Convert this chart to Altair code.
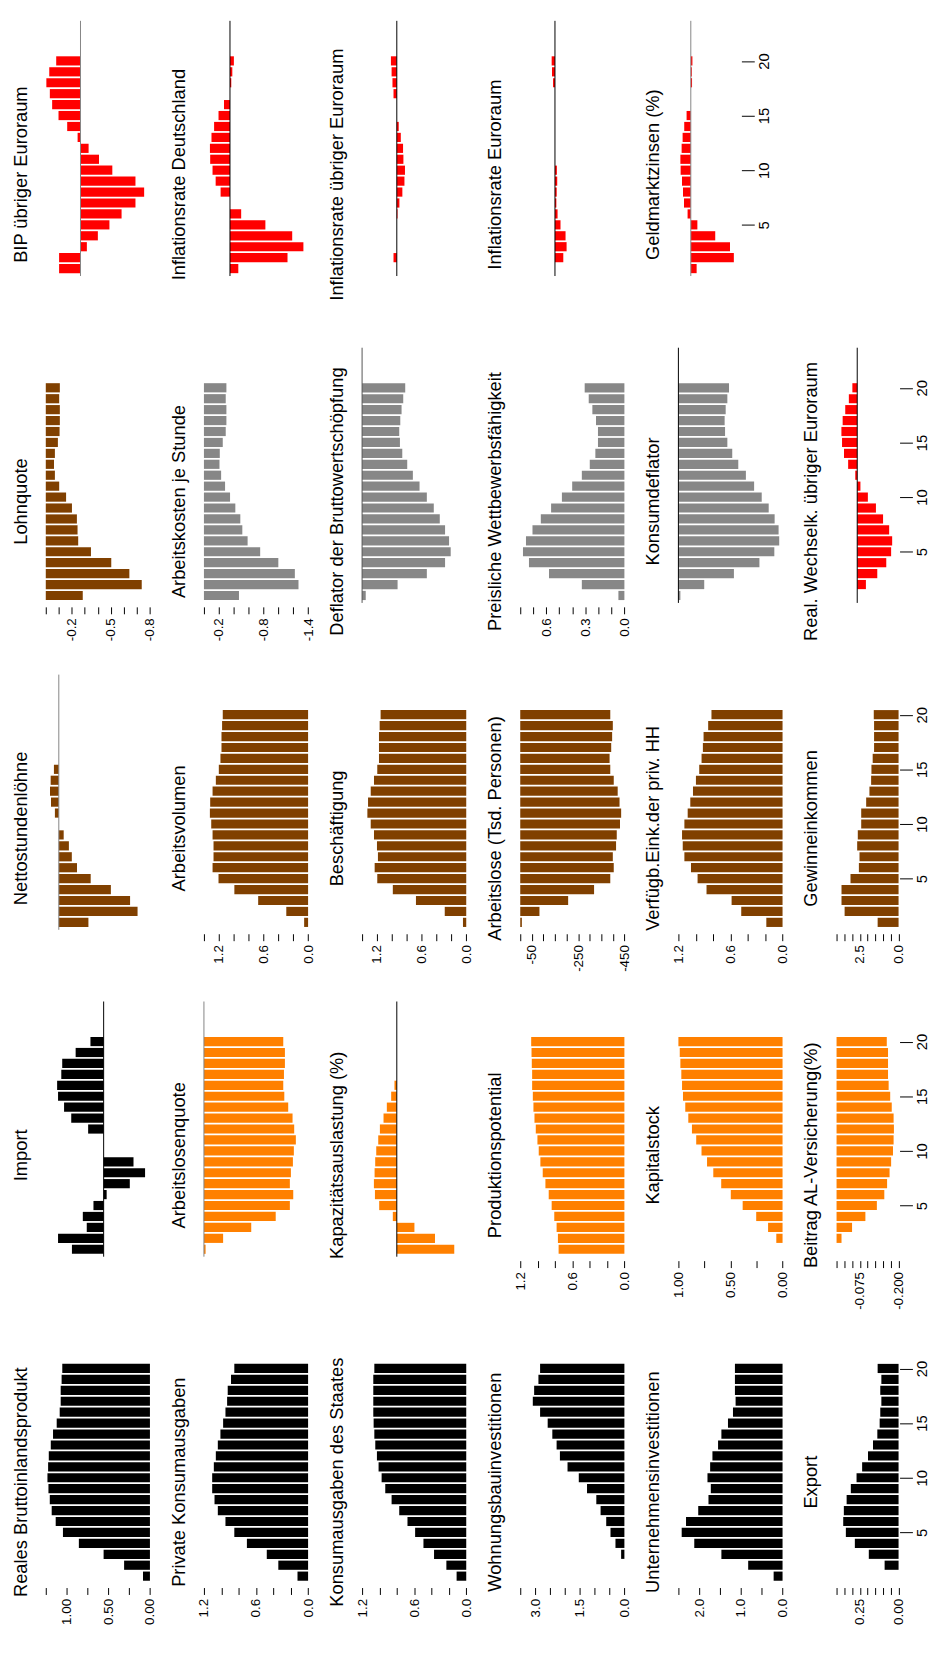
import json
import altair as alt
import pandas as pd

# ---------------- data (quarters 1..20) ----------------
quarters = [1, 2, 3, 4, 5, 6, 7, 8, 9, 10, 11, 12, 13, 14, 15, 16, 17, 18, 19, 20]
quarter_ticks = [5, 10, 15, 20]

bip_uebriger = [0.037, 0.037, -0.011, -0.030, -0.050, -0.071, -0.095, -0.110, -0.095, -0.055,
                -0.032, -0.014, 0.005, 0.023, 0.038, 0.049, 0.053, 0.059, 0.054, 0.042]
infl_de = [-0.032, -0.221, -0.282, -0.239, -0.136, -0.043, 0.0, 0.036, 0.055, 0.067,
           0.076, 0.077, 0.071, 0.061, 0.044, 0.023, 0.0, -0.005, -0.009, -0.015]
infl_uebriger = [0.0, 0.019, 0.0, 0.0, 0.0, -0.004, -0.015, -0.032, -0.044, -0.047,
                 -0.038, -0.036, -0.023, -0.011, 0.0, 0.0, 0.019, 0.025, 0.030, 0.034]
infl_euro = [0.0, -0.048, -0.067, -0.061, -0.032, -0.015, -0.008, -0.010, -0.013, -0.011,
             0.0, 0.0, 0.0, 0.0, 0.0, 0.0, 0.0, 0.011, 0.017, 0.019]
geldmarkt = [-0.047, -0.347, -0.316, -0.197, -0.053, 0.026, 0.055, 0.063, 0.071, 0.082,
             0.084, 0.074, 0.066, 0.053, 0.034, 0.0, 0.0, -0.010, -0.008, -0.013]
lohnquote = [-0.284, -0.737, -0.642, -0.503, -0.347, -0.249, -0.244, -0.239, -0.201, -0.156,
             -0.103, -0.070, -0.063, -0.070, -0.093, -0.106, -0.108, -0.108, -0.103, -0.108]
arbeitskosten = [-0.471, -1.271, -1.222, -1.000, -0.756, -0.587, -0.516, -0.489, -0.422, -0.351,
                 -0.284, -0.231, -0.209, -0.213, -0.253, -0.293, -0.302, -0.302, -0.293, -0.302]
deflator_bws = [-0.042, -0.409, -0.746, -0.956, -1.021, -1.002, -0.956, -0.895, -0.826, -0.746,
                -0.662, -0.585, -0.520, -0.463, -0.436, -0.428, -0.440, -0.455, -0.474, -0.497]
preis_wettb = [0.046, 0.327, 0.579, 0.733, 0.779, 0.756, 0.706, 0.642, 0.563, 0.480,
               0.401, 0.327, 0.266, 0.223, 0.203, 0.203, 0.218, 0.246, 0.274, 0.305]
konsumdeflator = [-0.019, -0.248, -0.533, -0.778, -0.921, -0.968, -0.962, -0.924, -0.867, -0.800,
                  -0.727, -0.648, -0.575, -0.517, -0.470, -0.448, -0.444, -0.454, -0.470, -0.486]
real_wechselk = [0.0, -0.084, -0.194, -0.281, -0.328, -0.338, -0.309, -0.250, -0.181, -0.103,
                 -0.031, 0.019, 0.088, 0.128, 0.147, 0.153, 0.141, 0.116, 0.081, 0.047]
nettostundenloehne = [-0.455, -1.210, -1.095, -0.800, -0.490, -0.280, -0.200, -0.155, -0.075, 0.0,
                      0.060, 0.120, 0.135, 0.125, 0.075, 0.0, 0.0, 0.0, 0.0, 0.0]
arbeitsvolumen = [0.053, 0.293, 0.671, 0.991, 1.204, 1.284, 1.271, 1.271, 1.284, 1.302,
                  1.320, 1.316, 1.284, 1.240, 1.200, 1.178, 1.164, 1.164, 1.156, 1.147]
beschaeftigung = [0.044, 0.289, 0.676, 0.987, 1.196, 1.231, 1.187, 1.200, 1.240, 1.284,
                  1.329, 1.320, 1.284, 1.240, 1.196, 1.173, 1.173, 1.173, 1.164, 1.151]
arbeitslose = [-7, -83, -207, -319, -389, -404, -400, -414, -417, -431,
               -436, -429, -421, -404, -389, -386, -393, -397, -400, -389]
verfuegb_eink = [0.187, 0.476, 0.587, 0.876, 0.979, 1.055, 1.131, 1.150, 1.158, 1.131,
                 1.093, 1.063, 1.032, 0.998, 0.960, 0.933, 0.918, 0.910, 0.857, 0.819]
gewinneinkommen = [1.35, 3.48, 3.68, 3.68, 3.10, 2.56, 2.52, 2.67, 2.63, 2.41,
                   2.41, 2.09, 1.88, 1.77, 1.75, 1.67, 1.58, 1.58, 1.58, 1.60]
importe = [0.137, 0.197, 0.073, 0.090, 0.044, -0.013, -0.113, -0.179, -0.129, 0.0,
           0.0, 0.067, 0.140, 0.171, 0.197, 0.201, 0.183, 0.179, 0.121, 0.057]
arbeitslosenquote = [-0.019, -0.221, -0.545, -0.827, -0.990, -1.029, -0.990, -1.002, -1.025, -1.036,
                     -1.059, -1.040, -1.021, -0.971, -0.926, -0.914, -0.922, -0.933, -0.933, -0.914]
kapazitaet = [-0.662, -0.440, -0.203, 0.046, 0.203, 0.252, 0.264, 0.256, 0.249, 0.237,
              0.214, 0.195, 0.153, 0.115, 0.065, 0.027, 0.0, 0.0, 0.0, 0.0]
produktionspot = [0.758, 0.766, 0.781, 0.808, 0.838, 0.872, 0.910, 0.941, 0.968, 0.987,
                  1.002, 1.021, 1.036, 1.048, 1.055, 1.063, 1.063, 1.067, 1.070, 1.074]
kapitalstock = [0.0, 0.060, 0.139, 0.253, 0.383, 0.497, 0.589, 0.665, 0.725, 0.778,
                0.829, 0.870, 0.905, 0.934, 0.956, 0.965, 0.972, 0.981, 0.987, 1.000]
beitrag_alv = [0.0, -0.016, -0.050, -0.093, -0.130, -0.154, -0.163, -0.171, -0.176, -0.182,
               -0.184, -0.185, -0.184, -0.178, -0.173, -0.168, -0.166, -0.166, -0.166, -0.162]
reales_bip = [0.083, 0.310, 0.556, 0.853, 1.044, 1.131, 1.179, 1.202, 1.218, 1.230,
              1.222, 1.214, 1.190, 1.163, 1.119, 1.083, 1.071, 1.071, 1.060, 1.052]
private_konsum = [0.122, 0.343, 0.476, 0.705, 0.850, 0.952, 1.040, 1.078, 1.105, 1.105,
                  1.086, 1.063, 1.040, 1.010, 0.979, 0.952, 0.933, 0.926, 0.888, 0.850]
staatskonsum = [0.111, 0.229, 0.371, 0.493, 0.589, 0.677, 0.772, 0.860, 0.933, 0.975,
                1.010, 1.029, 1.048, 1.059, 1.067, 1.071, 1.071, 1.071, 1.071, 1.059]
wohnungsbau = [0.0, 0.0, 0.110, 0.300, 0.467, 0.611, 0.800, 0.944, 1.256, 1.533,
               1.911, 2.167, 2.278, 2.422, 2.578, 2.833, 3.078, 3.033, 2.889, 2.833]
unternehmensinv = [0.214, 0.825, 1.468, 2.119, 2.421, 2.317, 2.024, 1.778, 1.722, 1.802,
                   1.738, 1.683, 1.548, 1.468, 1.310, 1.190, 1.127, 1.143, 1.143, 1.143]
exporte = [0.0, 0.090, 0.192, 0.282, 0.340, 0.357, 0.353, 0.335, 0.308, 0.271,
           0.235, 0.197, 0.165, 0.137, 0.122, 0.118, 0.111, 0.118, 0.111, 0.135]

# ---------------- value-axis ticks and their printed labels ----------------
t_bip_ueb = [0.06, 0.04, 0.02, 0.0, -0.02, -0.04, -0.06, -0.08, -0.10, -0.12]
l_bip_ueb = {0.04: "0.04", -0.04: "-0.04", -0.12: "-0.12"}
t_infl_de = [0.10, 0.05, 0.0, -0.05, -0.10, -0.15, -0.20, -0.25, -0.30]
l_infl_de = {0.0: "0.00", -0.15: "-0.15", -0.30: "-0.30"}
t_infl = [0.2, 0.1, 0.0, -0.1, -0.2, -0.3, -0.4]
l_infl = {0.2: "0.2", -0.1: "-0.1", -0.4: "-0.4"}
t_geld = [0.1, 0.0, -0.1, -0.2, -0.3, -0.4]
l_geld = {-0.1: "-0.1", -0.4: "-0.4"}
t_lohnq = [0.0, -0.1, -0.2, -0.3, -0.4, -0.5, -0.6, -0.7, -0.8]
l_lohnq = {-0.2: "-0.2", -0.5: "-0.5", -0.8: "-0.8"}
t_akost = [0.0, -0.2, -0.4, -0.6, -0.8, -1.0, -1.2, -1.4]
l_akost = {-0.2: "-0.2", -0.8: "-0.8", -1.4: "-1.4"}
t_defl = [0.0, -0.2, -0.4, -0.6, -0.8, -1.0, -1.2]
l_defl = {0.0: "-0.0", -0.6: "-0.6", -1.2: "-1.2"}
t_preis = [0.8, 0.7, 0.6, 0.5, 0.4, 0.3, 0.2, 0.1, 0.0]
l_preis = {0.6: "0.6", 0.3: "0.3", 0.0: "0.0"}
t_kdefl = [0.0, -0.2, -0.4, -0.6, -0.8, -1.0]
l_kdefl = {-0.2: "-0.2", -0.6: "-0.6", -1.0: "-1.0"}
t_rwk = [0.2, 0.1, 0.0, -0.1, -0.2, -0.3, -0.4]
l_rwk = {0.0: "-0.0", -0.4: "-0.4"}
t_netto = [0.2, 0.0, -0.2, -0.4, -0.6, -0.8, -1.0, -1.2, -1.4]
l_netto = {-0.2: "-0.2", -0.8: "-0.8", -1.4: "-1.4"}
t_avol = [1.4, 1.2, 1.0, 0.8, 0.6, 0.4, 0.2, 0.0]
l_avol = {1.2: "1.2", 0.6: "0.6", 0.0: "0.0"}
t_alose = [0, -50, -100, -150, -200, -250, -300, -350, -400, -450]
l_alose = {-50: "-50", -250: "-250", -450: "-450"}
t_12 = [1.2, 1.0, 0.8, 0.6, 0.4, 0.2, 0.0]
l_12 = {1.2: "1.2", 0.6: "0.6", 0.0: "0.0"}
t_gewinn = [4.0, 3.5, 3.0, 2.5, 2.0, 1.5, 1.0, 0.5, 0.0]
l_gewinn = {2.5: "2.5", 0.0: "0.0"}
t_import = [0.25, 0.20, 0.15, 0.10, 0.05, 0.0, -0.05, -0.10, -0.15, -0.20]
l_import = {0.20: "0.20", 0.0: "-0.00", -0.20: "-0.20"}
t_alq = [0.0, -0.2, -0.4, -0.6, -0.8, -1.0, -1.2]
l_alq = {0.0: "-0.0", -0.6: "-0.6", -1.2: "-1.2"}
t_kapaz = [0.4, 0.2, 0.0, -0.2, -0.4, -0.6, -0.8]
l_kapaz = {0.4: "0.4", -0.2: "-0.2", -0.8: "-0.8"}
t_kapital = [1.0, 0.75, 0.5, 0.25, 0.0]
l_kapital = {1.0: "1.00", 0.5: "0.50", 0.0: "0.00"}
t_beitrag = [0.0, -0.025, -0.05, -0.075, -0.1, -0.125, -0.15, -0.175, -0.2]
l_beitrag = {-0.075: "-0.075", -0.2: "-0.200"}
t_bip = [1.25, 1.0, 0.75, 0.5, 0.25, 0.0]
l_bip = {1.0: "1.00", 0.5: "0.50", 0.0: "0.00"}
t_wohn = [3.5, 3.0, 2.5, 2.0, 1.5, 1.0, 0.5, 0.0]
l_wohn = {3.0: "3.0", 1.5: "1.5", 0.0: "0.0"}
t_unt = [2.5, 2.0, 1.5, 1.0, 0.5, 0.0]
l_unt = {2.0: "2.0", 1.0: "1.0", 0.0: "0.0"}
t_export = [0.40, 0.35, 0.30, 0.25, 0.20, 0.15, 0.10, 0.05, 0.0]
l_export = {0.25: "0.25", 0.0: "0.00"}

# ---------------- styles ----------------
BLACK, ORANGE, BROWN, GRAY, RED = "#000000", "#FF8000", "#804000", "#878787", "#FF0000"
LINE_K, LINE_G = "#000000", "#858585"
FONT = "Liberation Sans"
WIDE, NARROW, PLOT_H = 105.3, 62.7, 258
COL_SP, ROW_SP = 53.9, 72.5
Q_DOMAIN = [0.32, 23.665]
TITLE_DX, TITLE_Y = -25.3, 155.5

# (title, series, colour, ticks, labels, zero-line colour or "", has quarter axis)
panels = [
    ("BIP übriger Euroraum", bip_uebriger, RED, t_bip_ueb, l_bip_ueb, LINE_G, False),
    ("Inflationsrate Deutschland", infl_de, RED, t_infl_de, l_infl_de, LINE_K, False),
    ("Inflationsrate übriger Euroraum", infl_uebriger, RED, t_infl, l_infl, LINE_K, False),
    ("Inflationsrate Euroraum", infl_euro, RED, t_infl, l_infl, LINE_K, False),
    ("Geldmarktzinsen (%)", geldmarkt, RED, t_geld, l_geld, LINE_G, True),
    None,
    ("Lohnquote", lohnquote, BROWN, t_lohnq, l_lohnq, "", False),
    ("Arbeitskosten je Stunde", arbeitskosten, GRAY, t_akost, l_akost, "", False),
    ("Deflator der Bruttowertschöpfung", deflator_bws, GRAY, t_defl, l_defl, "#555555", False),
    ("Preisliche Wettbewerbsfähigkeit", preis_wettb, GRAY, t_preis, l_preis, "", False),
    ("Konsumdeflator", konsumdeflator, GRAY, t_kdefl, l_kdefl, LINE_K, False),
    ("Real. Wechselk. übriger Euroraum", real_wechselk, RED, t_rwk, l_rwk, LINE_K, True),
    ("Nettostundenlöhne", nettostundenloehne, BROWN, t_netto, l_netto, LINE_G, False),
    ("Arbeitsvolumen", arbeitsvolumen, BROWN, t_avol, l_avol, "", False),
    ("Beschäftigung", beschaeftigung, BROWN, t_avol, l_avol, "", False),
    ("Arbeitslose (Tsd. Personen)", arbeitslose, BROWN, t_alose, l_alose, "", False),
    ("Verfügb.Eink.der priv. HH", verfuegb_eink, BROWN, t_12, l_12, "", False),
    ("Gewinneinkommen", gewinneinkommen, BROWN, t_gewinn, l_gewinn, "", True),
    ("Import", importe, BLACK, t_import, l_import, LINE_K, False),
    ("Arbeitslosenquote", arbeitslosenquote, ORANGE, t_alq, l_alq, LINE_G, False),
    ("Kapazitätsauslastung (%)", kapazitaet, ORANGE, t_kapaz, l_kapaz, LINE_K, False),
    ("Produktionspotential", produktionspot, ORANGE, t_12, l_12, "", False),
    ("Kapitalstock", kapitalstock, ORANGE, t_kapital, l_kapital, "", False),
    ("Beitrag AL-Versicherung(%)", beitrag_alv, ORANGE, t_beitrag, l_beitrag, "", True),
    ("Reales Bruttoinlandsprodukt", reales_bip, BLACK, t_bip, l_bip, "", False),
    ("Private Konsumausgaben", private_konsum, BLACK, t_12, l_12, "", False),
    ("Konsumausgaben des Staates", staatskonsum, BLACK, t_12, l_12, "", False),
    ("Wohnungsbauinvestitionen", wohnungsbau, BLACK, t_wohn, l_wohn, "", False),
    ("Unternehmensinvestitionen", unternehmensinv, BLACK, t_unt, l_unt, "", False),
    ("Export", exporte, BLACK, t_export, l_export, "", True),
]


def make_panel(spec):
    title, series, colour, ticks, labels, zero_col, q_axis = spec
    width = NARROW if q_axis else WIDE
    keys = json.dumps(list(labels.keys()))
    texts = json.dumps(list(labels.values()))
    label_expr = f"indexof({keys}, datum.value) >= 0 ? {texts}[indexof({keys}, datum.value)] : ''"
    xsc = alt.Scale(domain=[min(ticks), max(ticks)], reverse=True, nice=False, zero=False)
    ysc = alt.Scale(domain=Q_DOMAIN, nice=False, zero=False)
    xax = alt.Axis(values=ticks, labelExpr=label_expr, orient="bottom", title=None,
                   domain=False, grid=False, tickSize=7, offset=4, labelPadding=4,
                   labelAngle=270, labelAlign="right", labelBaseline="middle",
                   labelFontSize=13.5, labelOverlap=False, labelFlush=False, labelBound=False)
    if q_axis:
        yax = alt.Axis(orient="right", values=quarter_ticks, title=None, domain=False, grid=False,
                       tickSize=13, offset=1, labelPadding=2, labelAngle=270,
                       labelAlign="center", labelBaseline="top", labelFontSize=15,
                       labelOverlap=False, labelFlush=False, labelBound=False)
        y = alt.Y("lo:Q", scale=ysc, axis=yax)
    else:
        y = alt.Y("lo:Q", scale=ysc, axis=None)

    df = pd.DataFrame({"q": quarters, "v": series})
    bars = alt.Chart(df).transform_calculate(
        lo="datum.q - 0.42", hi="datum.q + 0.42"
    ).mark_bar(color=colour).encode(
        x=alt.X("v:Q", scale=xsc, axis=xax),
        x2=alt.X2Datum(0),
        y=y,
        y2=alt.Y2("hi:Q"),
    )
    layers = [bars]
    if zero_col:
        rule = alt.Chart(pd.DataFrame({"z": [0.0]})).mark_rule(
            color=zero_col, strokeWidth=1
        ).encode(x=alt.X("z:Q", scale=xsc, axis=None), y=alt.value(0), y2=alt.value(PLOT_H))
        layers.append(rule)
    ttl = alt.Chart(pd.DataFrame({"t": [title]})).mark_text(
        angle=270, align="center", baseline="middle", fontSize=18.5, font=FONT, color="black"
    ).encode(text="t:N", x=alt.value(TITLE_DX), y=alt.value(TITLE_Y))
    layers.append(ttl)
    return alt.layer(*layers).properties(width=width, height=PLOT_H)


def make_blank():
    return alt.Chart(pd.DataFrame({"q": [1]})).mark_point(opacity=0).encode(
        x=alt.X("q:Q", axis=None), y=alt.Y("q:Q", axis=None)
    ).properties(width=NARROW, height=PLOT_H)


charts = [make_blank() if p is None else make_panel(p) for p in panels]

chart = alt.concat(
    *charts, columns=6, spacing={"row": ROW_SP, "column": COL_SP}, bounds="flush"
).properties(
    padding={"left": 3.2, "top": 1, "right": 2, "bottom": 0}
).configure_view(strokeWidth=0).configure_axis(
    labelFont=FONT, labelColor="black", tickColor="black", tickWidth=1
)

chart.save("out.html", embed_options={"renderer": "svg", "actions": False})
